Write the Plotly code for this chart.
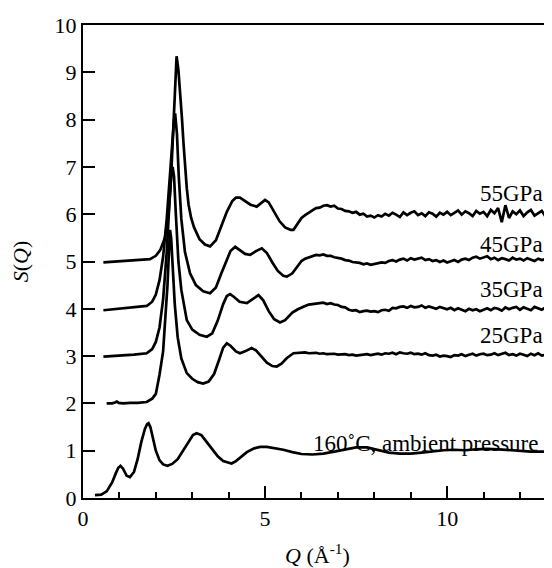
import plotly.graph_objects as go

# S(Q) curves
q_amb = [0.33, 0.5, 0.65, 0.8, 0.9, 0.97, 1.03, 1.1, 1.2, 1.29, 1.4, 1.5, 1.6, 1.7, 1.76, 1.80, 1.85,
         1.92, 2.0, 2.1, 2.2, 2.32, 2.45, 2.6, 2.75, 2.9, 3.02, 3.12, 3.25, 3.4, 3.55, 3.7, 3.85, 4.0,
         4.08, 4.2, 4.35, 4.5, 4.7, 4.86, 5.05, 5.3, 5.5, 5.75, 6.0, 6.3, 6.6, 6.9, 7.2, 7.5, 7.8, 8.1,
         8.4, 8.7, 9.0, 9.3, 9.6, 9.9, 10.2, 10.5, 10.8, 11.1, 11.4, 11.7, 12.0, 12.3, 12.6, 12.9]
s_amb = [0.06, 0.07, 0.14, 0.33, 0.52, 0.64, 0.68, 0.62, 0.47, 0.44, 0.55, 0.82, 1.18, 1.46, 1.56, 1.58, 1.5,
         1.26, 1.0, 0.8, 0.71, 0.68, 0.72, 0.82, 1.0, 1.2, 1.33, 1.37, 1.33, 1.18, 1.02, 0.88, 0.78, 0.74,
         0.73, 0.78, 0.88, 0.97, 1.05, 1.08, 1.08, 1.05, 1.02, 0.97, 0.93, 0.92, 0.94, 0.98, 1.03, 1.07, 1.07, 1.02,
         0.96, 0.94, 0.94, 0.96, 0.99, 1.01, 1.02, 1.01, 1.03, 1.04, 1.03, 1.01, 0.99, 0.98, 0.98, 0.99]

q_25 = [0.65, 0.8, 0.88, 0.93, 0.98, 1.1, 1.3, 1.5, 1.75, 1.9, 2.0, 2.1, 2.2, 2.27, 2.32, 2.36, 2.39, 2.42,
        2.46, 2.52, 2.6, 2.7, 2.85, 3.0, 3.15, 3.3, 3.45, 3.6, 3.75, 3.85, 3.95, 4.05, 4.2, 4.31, 4.45, 4.63,
        4.75, 4.9, 5.05, 5.2, 5.32, 5.45, 5.6, 5.78, 5.9]
s_25 = [2.0, 2.0, 2.02, 2.04, 2.01, 2.0, 2.01, 2.01, 2.03, 2.1, 2.2, 2.6, 3.1, 3.8, 4.5, 5.2, 5.67, 5.5,
        4.9, 4.1, 3.4, 2.95, 2.64, 2.52, 2.45, 2.42, 2.46, 2.62, 2.95, 3.18, 3.27, 3.22, 3.1, 3.06, 3.1, 3.17,
        3.12, 2.98, 2.86, 2.79, 2.78, 2.84, 2.96, 3.06, 3.07]

q_35 = [0.56, 1.0, 1.4, 1.75, 1.9, 2.0, 2.1, 2.2, 2.3, 2.37, 2.42, 2.46, 2.5, 2.55, 2.62, 2.7, 2.85, 3.0,
        3.2, 3.4, 3.55, 3.7, 3.85, 3.95, 4.04, 4.15, 4.3, 4.5, 4.65, 4.82, 4.95, 5.1, 5.25, 5.41, 5.55, 5.75, 5.9]
s_35 = [2.99, 3.01, 3.03, 3.06, 3.15, 3.3, 3.6, 4.2, 5.2, 6.2, 6.8, 7.0, 6.8, 6.0, 5.0, 4.4, 3.76, 3.56,
        3.45, 3.41, 3.48, 3.75, 4.1, 4.27, 4.31, 4.25, 4.15, 4.12, 4.2, 4.29, 4.18, 3.95, 3.78, 3.71, 3.76, 3.92, 3.99]

q_45 = [0.56, 1.0, 1.4, 1.75, 1.9, 2.0, 2.1, 2.2, 2.3, 2.38, 2.45, 2.5, 2.53, 2.58, 2.63, 2.7, 2.8, 2.94,
        3.1, 3.3, 3.49, 3.65, 3.8, 3.95, 4.05, 4.18, 4.3, 4.45, 4.59, 4.75, 4.91, 5.05, 5.2, 5.35, 5.5, 5.6,
        5.75, 5.9]
s_45 = [3.97, 4.0, 4.03, 4.06, 4.15, 4.3, 4.6, 5.1, 5.9, 6.8, 7.6, 8.0, 8.13, 7.7, 6.8, 5.9, 5.2, 4.75,
        4.5, 4.37, 4.33, 4.45, 4.75, 5.05, 5.22, 5.31, 5.25, 5.16, 5.14, 5.22, 5.28, 5.18, 4.98, 4.8, 4.7, 4.68,
        4.75, 4.9]

q_55 = [0.56, 1.0, 1.5, 1.84, 2.0, 2.12, 2.25, 2.35, 2.42, 2.48, 2.53, 2.57, 2.62, 2.67, 2.72, 2.76, 2.8,
        2.85, 2.9, 2.97, 3.05, 3.2, 3.35, 3.49, 3.65, 3.8, 3.95, 4.1, 4.2, 4.31, 4.45, 4.6, 4.77, 4.9, 5.0,
        5.1, 5.25, 5.4, 5.55, 5.7, 5.78, 5.9]
s_55 = [4.98, 5.0, 5.03, 5.05, 5.12, 5.24, 5.5, 6.0, 6.8, 7.8, 8.8, 9.34, 9.05, 8.6, 8.0, 7.5, 7.0,
        6.55, 6.2, 5.92, 5.72, 5.47, 5.36, 5.32, 5.45, 5.75, 6.05, 6.28, 6.35, 6.35, 6.28, 6.2, 6.16, 6.25, 6.3,
        6.25, 6.05, 5.85, 5.72, 5.67, 5.67, 5.8]

# noisy high-Q tails (Q = 6.0 ... 12.9)
q_tail = [6.0, 6.1, 6.2, 6.3, 6.4, 6.5, 6.6, 6.7, 6.8, 6.9,
          7.0, 7.1, 7.2, 7.3, 7.4, 7.5, 7.6, 7.7, 7.8, 7.9,
          8.0, 8.1, 8.2, 8.3, 8.4, 8.5, 8.6, 8.7, 8.8, 8.9,
          9.0, 9.1, 9.2, 9.3, 9.4, 9.5, 9.6, 9.7, 9.8, 9.9,
          10.0, 10.1, 10.2, 10.3, 10.4, 10.5, 10.6, 10.7, 10.8, 10.9,
          11.0, 11.1, 11.2, 11.3, 11.4, 11.5, 11.6, 11.7, 11.8, 11.9,
          12.0, 12.1, 12.2, 12.3, 12.4, 12.5, 12.6, 12.7, 12.8, 12.9]
tail_25 = [3.07, 3.08, 3.06, 3.07, 3.07, 3.05, 3.06, 3.04, 3.05, 3.05,
           3.03, 3.04, 3.04, 3.02, 3.03, 3.01, 3.02, 3.03, 3.04, 3.02,
           3.04, 3.05, 3.03, 3.06, 3.05, 3.07, 3.04, 3.08, 3.06, 3.05,
           3.07, 3.04, 3.05, 3.03, 3.06, 3.02, 3.01, 3.03, 2.99, 3.01,
           3.00, 2.98, 3.02, 3.01, 3.04, 3.00, 3.03, 3.05, 3.01, 3.04,
           3.05, 3.02, 3.03, 3.06, 3.02, 3.05, 3.07, 3.02, 3.04, 3.01,
           3.05, 3.03, 3.00, 3.05, 3.02, 3.06, 3.01, 3.03, 3.05, 3.02]
tail_35 = [4.03, 4.06, 4.09, 4.10, 4.12, 4.12, 4.13, 4.10, 4.12, 4.09,
           4.08, 4.04, 4.03, 3.98, 3.96, 3.97, 3.93, 3.95, 3.96, 3.94,
           3.95, 3.93, 3.97, 3.98, 3.96, 4.02, 4.01, 4.04, 4.05, 4.02,
           4.06, 4.03, 4.04, 4.07, 4.02, 4.05, 4.03, 4.00, 4.04, 4.01,
           3.99, 4.02, 3.97, 4.01, 3.98, 3.95, 4.00, 3.97, 3.99, 3.95,
           3.98, 4.01, 3.97, 4.02, 4.00, 3.96, 4.03, 3.99, 4.02, 4.04,
           3.98, 4.03, 4.00, 3.97, 4.04, 4.01, 3.98, 4.03, 4.00, 4.02]
tail_45 = [5.01, 5.06, 5.09, 5.12, 5.14, 5.13, 5.15, 5.12, 5.12, 5.09,
           5.08, 5.06, 5.03, 5.02, 4.99, 4.98, 4.97, 4.94, 4.96, 4.93,
           4.95, 4.96, 4.98, 4.97, 5.01, 5.03, 5.00, 5.04, 5.06, 5.02,
           5.07, 5.04, 5.06, 5.08, 5.03, 5.05, 5.01, 5.03, 4.99, 5.02,
           4.98, 5.01, 5.03, 4.99, 5.04, 5.06, 5.03, 5.08, 5.10, 5.06,
           5.09, 5.11, 5.05, 5.08, 5.03, 5.07, 5.05, 5.02, 5.08, 5.04,
           5.06, 5.02, 5.07, 5.04, 5.01, 5.06, 5.03, 5.05, 5.01, 5.03]
tail_55 = [5.92, 5.98, 6.04, 6.08, 6.13, 6.14, 6.18, 6.19, 6.16, 6.18,
           6.12, 6.11, 6.07, 6.06, 6.03, 6.05, 5.99, 6.01, 5.95, 5.97,
           5.93, 5.98, 5.95, 6.01, 5.97, 6.03, 5.99, 5.94, 6.04, 5.98,
           6.03, 6.06, 5.98, 6.02, 5.96, 6.04, 6.01, 5.95, 6.03, 5.99,
           6.05, 5.98, 6.03, 6.08, 5.99, 6.06, 6.02, 5.96, 6.07, 6.01,
           6.05, 5.96, 6.09, 6.02, 6.13, 5.83, 6.19, 5.92, 6.06, 6.00,
           6.08, 5.96, 6.04, 6.09, 5.97, 6.03, 6.07, 5.95, 6.04, 6.01]

labels = ["55GPa", "45GPa", "35GPa", "25GPa", "160˚C, ambient pressure"]
label_y = [6.44, 5.35, 4.4, 3.43, 1.16]
label_x = [12.69, 12.69, 12.69, 12.69, 12.55]

serif = "Liberation Serif"

fig = go.Figure()
curves = [(q_amb, s_amb),
          (q_25 + q_tail, s_25 + tail_25),
          (q_35 + q_tail, s_35 + tail_35),
          (q_45 + q_tail, s_45 + tail_45),
          (q_55 + q_tail, s_55 + tail_55)]
for qq, ss in curves:
    fig.add_trace(go.Scatter(x=qq, y=ss, mode="lines",
                             line=dict(color="black", width=2.7),
                             showlegend=False, hoverinfo="skip"))

for txt, xx, yy in zip(labels, label_x, label_y):
    fig.add_annotation(x=xx, y=yy, text=txt, showarrow=False,
                       xanchor="right", yanchor="middle",
                       font=dict(family=serif, size=23, color="black"))

# the page body has an 8px margin, so the figure is 8px smaller each way
fig.update_layout(
    width=544, height=560,
    margin=dict(l=75, r=0, t=17, b=70),
    plot_bgcolor="white", paper_bgcolor="white",
    font=dict(family=serif, size=22, color="black"),
)
fig.update_xaxes(
    range=[0, 12.88], dtick=5, tick0=0,
    showline=True, linecolor="black", linewidth=2, mirror=True,
    ticks="inside", ticklen=12, tickwidth=2, tickcolor="black",
    minor=dict(dtick=1, ticks="inside", ticklen=6, tickwidth=2, tickcolor="black"),
    showgrid=False, zeroline=False,
    title=dict(text="<i>Q</i> (Å<sup>-1</sup>)", standoff=18,
               font=dict(family=serif, size=22)),
)
fig.update_yaxes(
    range=[0, 10], dtick=1, tick0=0,
    showline=True, linecolor="black", linewidth=2,
    ticks="inside", ticklen=12, tickwidth=2, tickcolor="black",
    showgrid=False, zeroline=False,
    title=dict(text="<i>S</i>(<i>Q</i>)", standoff=22,
               font=dict(family=serif, size=22)),
)

fig.write_html("out.html")
